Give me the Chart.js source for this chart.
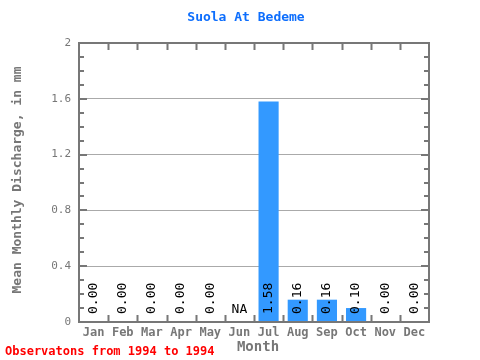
<!DOCTYPE html>
<html><head><meta charset="utf-8">
<script src="https://cdn.jsdelivr.net/npm/chart.js@4/dist/chart.umd.min.js"></script>
<style>html,body{margin:0;padding:0;background:#fff}#wrap{width:480px;height:360px;position:relative}</style>
</head><body><div id="wrap"><canvas id="c" width="480" height="360"></canvas></div>
<script>
const months = ['Jan','Feb','Mar','Apr','May','Jun','Jul','Aug','Sep','Oct','Nov','Dec'];
const discharge = [0.00,0.00,0.00,0.00,0.00,null,1.58,0.16,0.16,0.10,0.00,0.00];
const valueLabels = ['0.00','0.00','0.00','0.00','0.00','NA','1.58','0.16','0.16','0.10','0.00','0.00'];
const yTicks = [0,0.4,0.8,1.2,1.6,2];
const titleText = 'Suola At Bedeme';
const yTitle = 'Mean Monthly Discharge, in mm';
const xTitle = 'Month';
const noteText = 'Observatons from 1994 to 1994';

const MONO = '"DejaVu Sans Mono", "Liberation Mono", monospace';
const AXIS = '#777777';

const deco = {
  id: 'deco',
  afterDatasetsDraw(chart) {
    const {ctx, chartArea: a, scales: {x, y}} = chart;
    ctx.save();
    // value labels
    ctx.fillStyle = '#000';
    ctx.font = '13px ' + MONO;
    valueLabels.forEach((t, i) => {
      const cx = x.getPixelForValue(i);
      if (discharge[i] === null) {
        ctx.textAlign = 'center'; ctx.textBaseline = 'alphabetic';
        ctx.fillText(t, cx, y.getPixelForValue(0) - 9);
      } else {
        ctx.save();
        ctx.translate(cx, y.getPixelForValue(0) - 8);
        ctx.rotate(-Math.PI / 2);
        ctx.textAlign = 'left'; ctx.textBaseline = 'middle';
        ctx.fillText(t, 0, 0);
        ctx.restore();
      }
    });
    // frame ticks
    ctx.strokeStyle = AXIS;
    ctx.lineWidth = 2;
    const n = months.length;
    const w = (a.right - a.left) / n;
    ctx.beginPath();
    for (let i = 1; i < n; i++) {
      const px = Math.round(a.left + i * w) + 0.5;
      ctx.moveTo(px, a.top); ctx.lineTo(px, a.top + 7);
      ctx.moveTo(px, a.bottom); ctx.lineTo(px, a.bottom - 7);
    }
    for (let v = 1; v < 20; v++) {
      const py = Math.round(y.getPixelForValue(v / 10));
      const len = (v % 4 === 0) ? 8 : 5;
      ctx.moveTo(a.left, py); ctx.lineTo(a.left + len, py);
      ctx.moveTo(a.right, py); ctx.lineTo(a.right - len, py);
    }
    ctx.stroke();
    ctx.strokeRect(a.left, a.top, a.right - a.left, a.bottom - a.top);
    // titles
    ctx.textAlign = 'center'; ctx.textBaseline = 'middle';
    ctx.fillStyle = '#0d6efd';
    ctx.font = 'bold 13px ' + MONO;
    ctx.fillText(titleText, 246, 18);
    ctx.fillStyle = AXIS;
    ctx.font = 'bold 14px ' + MONO;
    ctx.fillText(xTitle, 258, 347);
    ctx.save();
    ctx.translate(18, 180);
    ctx.rotate(-Math.PI / 2);
    ctx.font = 'bold 13px ' + MONO;
    ctx.fillText(yTitle, 0, 0);
    ctx.restore();
    ctx.textAlign = 'left';
    ctx.fillStyle = '#ff0000';
    ctx.font = 'bold 12px ' + MONO;
    ctx.fillText(noteText, 5, 352);
    ctx.restore();
  }
};

new Chart(document.getElementById('c'), {
  type: 'bar',
  data: { labels: months, datasets: [{ data: discharge, backgroundColor: '#3399ff', borderWidth: 0, barPercentage: 0.69, categoryPercentage: 1.0 }] },
  options: {
    responsive: false, animation: false, devicePixelRatio: 1,
    layout: { padding: { left: 0, top: 43, right: 51, bottom: 0 } },
    plugins: { legend: { display: false }, tooltip: { enabled: false }, title: { display: false } },
    scales: {
      x: {
        grid: { display: false, drawTicks: false }, border: { display: false },
        ticks: { color: AXIS, font: { family: MONO, size: 12, weight: 'bold' }, padding: 4, maxRotation: 0, autoSkip: false },
        afterFit(s) { s.height = 38; }
      },
      y: {
        min: 0, max: 2,
        afterBuildTicks(s) { s.ticks = yTicks.map(v => ({ value: v })); },
        grid: { color: (c) => (c.tick && (c.tick.value === 0 || c.tick.value === 2)) ? 'rgba(0,0,0,0)' : '#aaaaaa', drawTicks: false, lineWidth: 1 },
        border: { display: false },
        ticks: { color: AXIS, font: { family: MONO, size: 11 }, padding: 8, callback: (v) => String(v) },
        afterFit(s) { s.width = 79; }
      }
    }
  },
  plugins: [deco]
});
</script></body></html>
